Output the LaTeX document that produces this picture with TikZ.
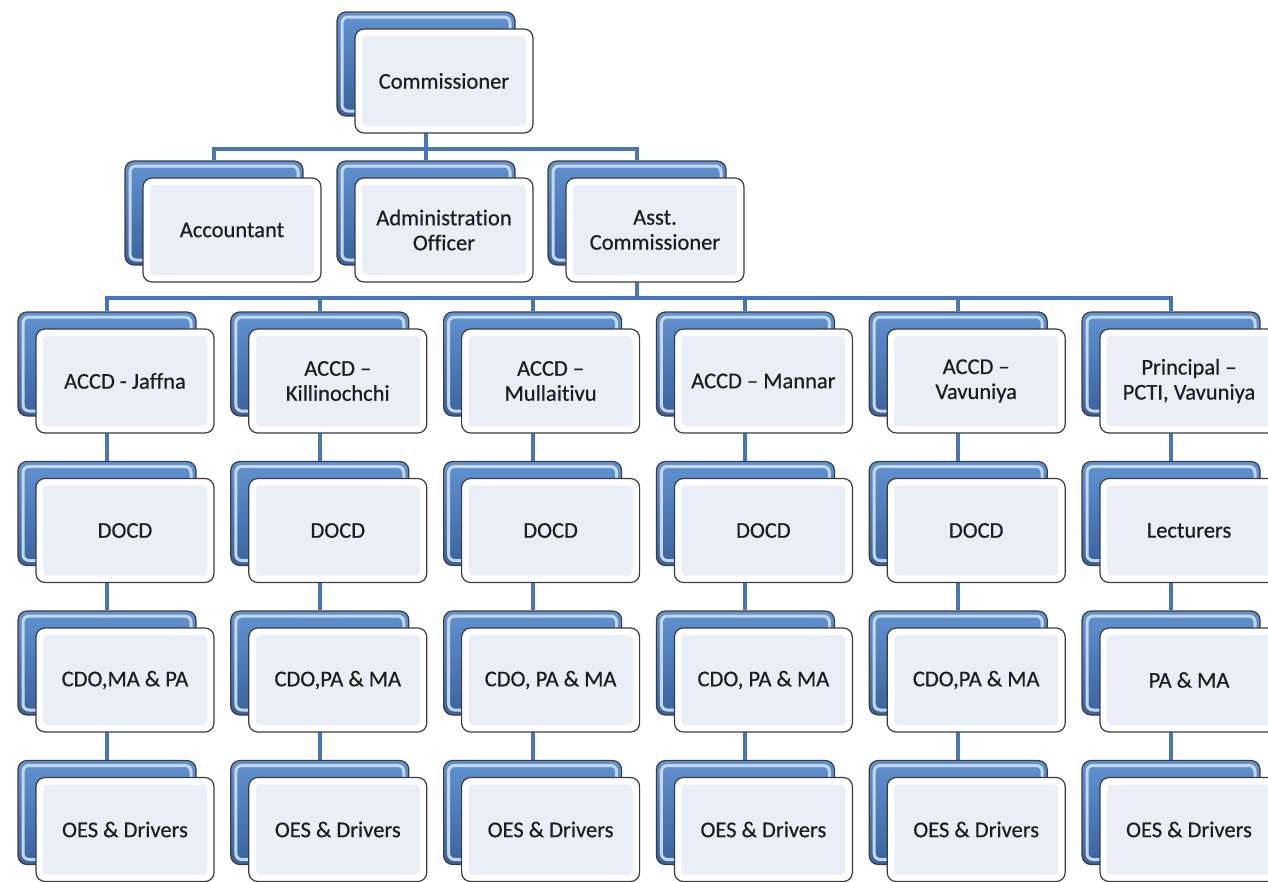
\documentclass[tikz,border=0pt]{standalone}
\usepackage{fontspec}
\setmainfont{Carlito}[Ligatures=NoCommon, FakeBold=0.6]
\usetikzlibrary{backgrounds}
\definecolor{boxblue}{RGB}{98,146,208}
\definecolor{boxbluedark}{RGB}{58,98,160}
\definecolor{boxbluelight}{RGB}{196,216,242}
\definecolor{facefill}{RGB}{234,239,247}
\definecolor{edgegray}{RGB}{60,60,60}
\definecolor{linkblue}{RGB}{72,118,180}
\definecolor{labelgray}{RGB}{30,30,30}
\newcommand*\orgunit[4]{%
  \node[back box] (#1-b) at (#2,#3) {};
  \node[face box] (#1) at ([shift={(18,17)}]#1-b.center) {#4};
}

\begin{document}
\begin{tikzpicture}[
        x=1pt, y=-1pt, line join=round,
        back box/.style={minimum width=178pt, minimum height=104pt, inner sep=0pt,
            rounded corners=9pt, draw=edgegray, line width=1.2pt,
            top color=boxblue, bottom color=boxbluedark,
            path picture={\draw[boxbluelight, line width=3pt, rounded corners=6pt]
                ([shift={(5pt,-5pt)}]path picture bounding box.north west) rectangle
                ([shift={(-5pt,5pt)}]path picture bounding box.south east);}},
        face box/.style={minimum width=178pt, minimum height=104pt, inner sep=4pt,
            rounded corners=9pt, draw=edgegray, line width=1.2pt, fill=white,
            align=center, text=labelgray, font=\fontsize{22.5}{25}\selectfont,
            path picture={\fill[facefill, rounded corners=4pt]
                ([shift={(7pt,-7pt)}]path picture bounding box.north west) rectangle
                ([shift={(-7pt,7pt)}]path picture bounding box.south east);}},
        link/.style={linkblue, line width=4pt}
    ]
    \useasboundingbox (0,0) rectangle (1268,881);
    \orgunit{comm}{426}{64}{Commissioner}
    \orgunit{acct}{214}{213}{Accountant}
    \orgunit{admin}{426}{213}{Administration\\Officer}
    \orgunit{asst}{637}{213}{Asst.\\Commissioner}
    \foreach \name/\head/\second/\third [count=\i from 0] in {
            jaf/{ACCD - Jaffna}/DOCD/{CDO,MA \& PA},
            kil/{ACCD –\\Killinochchi}/DOCD/{CDO,PA \& MA},
            mul/{ACCD –\\Mullaitivu}/DOCD/{CDO, PA \& MA},
            man/{ACCD – Mannar}/DOCD/{CDO, PA \& MA},
            vav/{ACCD –\\Vavuniya}/DOCD/{CDO,PA \& MA},
            pcti/{Principal –\\PCTI, Vavuniya}/Lecturers/{PA \& MA}} {
        \pgfmathsetmacro\colx{107+212.8*\i}
        \orgunit{\name-r1}{\colx}{364}{\head}
        \orgunit{\name-r2}{\colx}{513.5}{\second}
        \orgunit{\name-r3}{\colx}{663}{\third}
        \orgunit{\name-r4}{\colx}{812.5}{OES \& Drivers}
    }
    \begin{scope}[on background layer]
        \draw[link] (comm-b.south) -- (comm-b.south |- 0,149);
        \draw[link] (acct-b.north) |- (asst-b.north |- 0,149) -- (asst-b.north);
        \draw[link] (admin-b.north) -- (admin-b.north |- 0,149);
        \draw[link] (asst-b.south) -- (asst-b.south |- 0,298);
        \draw[link] (jaf-r1-b.north) |- (pcti-r1-b.north |- 0,298) -- (pcti-r1-b.north);
        \foreach \name in {kil,mul,man,vav}
            \draw[link] (\name-r1-b.north) -- (\name-r1-b.north |- 0,298);
        \foreach \name in {jaf,kil,mul,man,vav,pcti} {
            \draw[link] (\name-r1-b.south) -- (\name-r2-b.north);
            \draw[link] (\name-r2-b.south) -- (\name-r3-b.north);
            \draw[link] (\name-r3-b.south) -- (\name-r4-b.north);
        }
    \end{scope}
\end{tikzpicture}
\end{document}
